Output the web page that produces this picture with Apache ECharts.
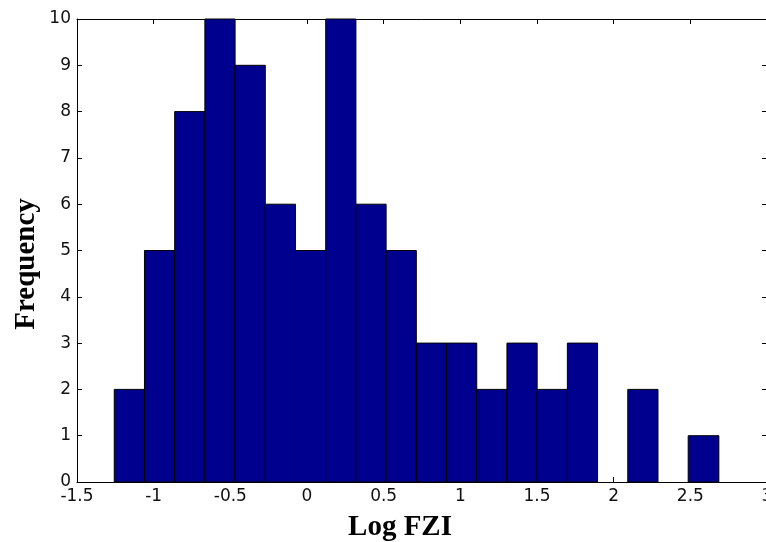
<!DOCTYPE html>
<html><head><meta charset="utf-8">
<script src="https://cdn.jsdelivr.net/npm/echarts@6/dist/echarts.min.js"></script>
<style>html,body{margin:0;padding:0;background:#fff}#c{width:766px;height:542px}</style>
</head><body><div id="c"></div>
<script>
// Histogram bin edges (Log FZI) and counts
const binEdges = [-1.257, -1.060, -0.863, -0.666, -0.469, -0.272, -0.075, 0.122, 0.319, 0.516, 0.713,
                  0.910, 1.107, 1.304, 1.501, 1.698, 1.895, 2.092, 2.289, 2.486, 2.686];
const counts = [2, 5, 8, 10, 9, 6, 5, 10, 6, 5, 3, 3, 2, 3, 2, 3, 0, 2, 0, 1];
const xTicks = [-1.5, -1, -0.5, 0, 0.5, 1, 1.5, 2, 2.5, 3];
const yTicks = [0, 1, 2, 3, 4, 5, 6, 7, 8, 9, 10];

const data = counts.map((c, i) => [binEdges[i], binEdges[i + 1], c]);
const chart = echarts.init(document.getElementById('c'), null, {renderer: 'canvas'});
const lab = {color: '#111', fontFamily: 'DejaVu Sans', fontSize: 17};
const axLine = {show: true, onZero: false, lineStyle: {color: '#000', width: 1}};
const tick = {show: true, inside: true, length: 5, lineStyle: {color: '#000'}};
chart.setOption({
  animation: false,
  grid: {left: 77, top: 19, right: -1, bottom: 60, containLabel: false, outerBoundsMode: 'none'},
  xAxis: [
    {type: 'value', position: 'bottom', min: xTicks[0], max: xTicks[xTicks.length - 1], interval: 0.5,
     axisLine: axLine, axisTick: tick,
     axisLabel: {...lab, margin: 6, showMaxLabel: true, formatter: v => String(v)}, splitLine: {show: false}},
    {type: 'value', position: 'top', min: xTicks[0], max: xTicks[xTicks.length - 1], interval: 0.5,
     axisLine: axLine, axisTick: tick,
     axisLabel: {show: false}, splitLine: {show: false}}
  ],
  yAxis: [
    {type: 'value', position: 'left', min: yTicks[0], max: yTicks[yTicks.length - 1], interval: 1,
     axisLine: axLine, axisTick: tick,
     axisLabel: {...lab, margin: 6}, splitLine: {show: false}},
    {type: 'value', position: 'right', min: yTicks[0], max: yTicks[yTicks.length - 1], interval: 1,
     axisLine: axLine, axisTick: tick,
     axisLabel: {show: false}, splitLine: {show: false}}
  ],
  series: [{
    type: 'custom',
    xAxisIndex: 0, yAxisIndex: 0,
    data: data,
    renderItem: function (params, api) {
      const p0 = api.coord([api.value(0), api.value(2)]);
      const p1 = api.coord([api.value(1), 0]);
      if (api.value(2) <= 0) return null;
      return {
        type: 'rect',
        shape: {x: p0[0], y: p0[1], width: p1[0] - p0[0], height: p1[1] - p0[1]},
        style: {fill: '#00008F', stroke: '#000', lineWidth: 1}
      };
    }
  }],
  graphic: [
    {type: 'text', x: 400, y: 528, style: {text: 'Log FZI', font: 'bold 29px "Liberation Serif"', fill: '#000', textAlign: 'center', textVerticalAlign: 'middle'}},
    {type: 'text', x: 27, y: 264, rotation: Math.PI / 2, style: {text: 'Frequency', font: 'bold 29px "Liberation Serif"', fill: '#000', textAlign: 'center', textVerticalAlign: 'middle'}}
  ]
});
</script></body></html>
